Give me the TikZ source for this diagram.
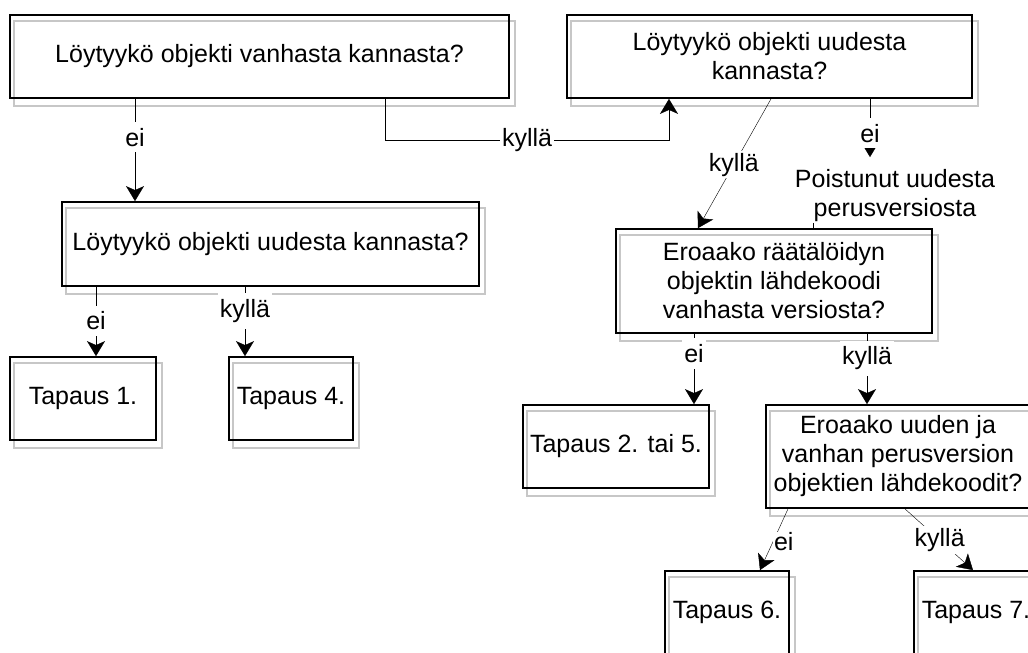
\documentclass[tikz,border=0pt]{standalone}
\usepackage{fontspec}
\setmainfont{Liberation Sans}
\usetikzlibrary{arrows.meta,backgrounds}

\begin{document}
\begin{tikzpicture}[x=1pt, y=-1pt, line width=1.5pt, box/.style={draw, line width=1.8pt, align=center, inner sep=0pt, font=\fontsize{25}{29}\selectfont}, lbl/.style={fill=white, inner xsep=2pt, inner ysep=6pt, font=\fontsize{25}{29}\selectfont}, arr/.style={-{Stealth[length=15pt,width=18pt,inset=4pt]}}, shade line/.style={draw=black!22, line width=1.4pt}]
\useasboundingbox (0,0) rectangle (1028,653);
\node[box, minimum width=499pt, minimum height=83pt] (a) at (259.5,56.5) {Löytyykö objekti vanhasta kannasta?};
\node[box, minimum width=405pt, minimum height=83pt] (b) at (769.5,56.5) {Löytyykö objekti uudesta\\kannasta?};
\node[box, minimum width=417pt, minimum height=84pt] (c) at (270.5,244) {Löytyykö objekti uudesta kannasta?};
\node[box, minimum width=146pt, minimum height=83pt] (d) at (83,398.5) {Tapaus 1.};
\node[box, minimum width=124pt, minimum height=83pt] (e) at (291,398.5) {Tapaus 4.};
\node[box, minimum width=316pt, minimum height=104pt] (f) at (774,281) {Eroaako räätälöidyn\\objektin lähdekoodi\\vanhasta versiosta?};
\node[box, minimum width=186pt, minimum height=83pt] (g) at (616,446.5) {Tapaus 2. tai 5.};
\node[box, minimum width=264pt, minimum height=103pt] (h) at (898,456.5) {Eroaako uuden ja\\vanhan perusversion\\objektien lähdekoodit?};
\node[box, minimum width=124pt, minimum height=83pt] (i) at (727,612.5) {Tapaus 6.};
\node[box, minimum width=124pt, minimum height=83pt] (j) at (976,612.5) {Tapaus 7.};
\node[align=center, inner sep=0pt, font=\fontsize{25}{29}\selectfont] (p) at (895,196) {Poistunut uudesta\\perusversiosta};

% varjot
\begin{pgfonlayer}{background}
\foreach \n in {a,b,c,d,e,f,g,h,i,j}
  \draw[shade line] ([shift={(5,7)}]\n.north west) rectangle ([shift={(5,7)}]\n.south east);
\end{pgfonlayer}

\draw[arr] ([xshift=-124.5pt]a.south) -- node[lbl, pos=0.375] {ei} ([xshift=-124.5pt]a.south |- c.north);
\draw[arr] ([xshift=125.5pt]a.south) -- ++(0,41) -| node[lbl, pos=0.25] {kyllä} ([xshift=-100.5pt]b.south);
\draw[arr] ([xshift=1.5pt]b.south) -- node[lbl, inner ysep=2pt, pos=0.51] {kyllä} ([xshift=-76pt]f.north);
\draw[arr, shorten >=12pt] ([xshift=100.5pt]b.south) -- node[lbl, pos=0.49] {ei} ([xshift=100.5pt]b.south |- p.north);
\draw ([xshift=-82pt]p.south) -- ([xshift=-82pt]p.south |- f.north);
\draw[arr] ([xshift=-174.5pt]c.south) -- node[lbl, pos=0.49] {ei} ([xshift=-174.5pt]c.south |- d.north);
\draw[arr] ([xshift=-25.5pt]c.south) -- node[lbl, pos=0.35] {kyllä} ([xshift=-25.5pt]c.south |- e.north);
\draw[arr] ([xshift=-80pt]f.south) -- node[lbl, pos=0.28] {ei} ([xshift=-80pt]f.south |- g.north);
\draw[arr] ([xshift=93pt]f.south) -- node[lbl, pos=0.35] {kyllä} ([xshift=93pt]f.south |- h.north);
\draw[arr] ([xshift=-110pt]h.south) -- node[lbl, anchor=west, inner sep=1pt, pos=0.54] {ei} ([xshift=33pt]i.north);
\draw[arr] ([xshift=7pt]h.south) -- node[lbl, inner ysep=2pt, pos=0.51] {kyllä} ([xshift=-3pt]j.north);
\end{tikzpicture}
\end{document}
